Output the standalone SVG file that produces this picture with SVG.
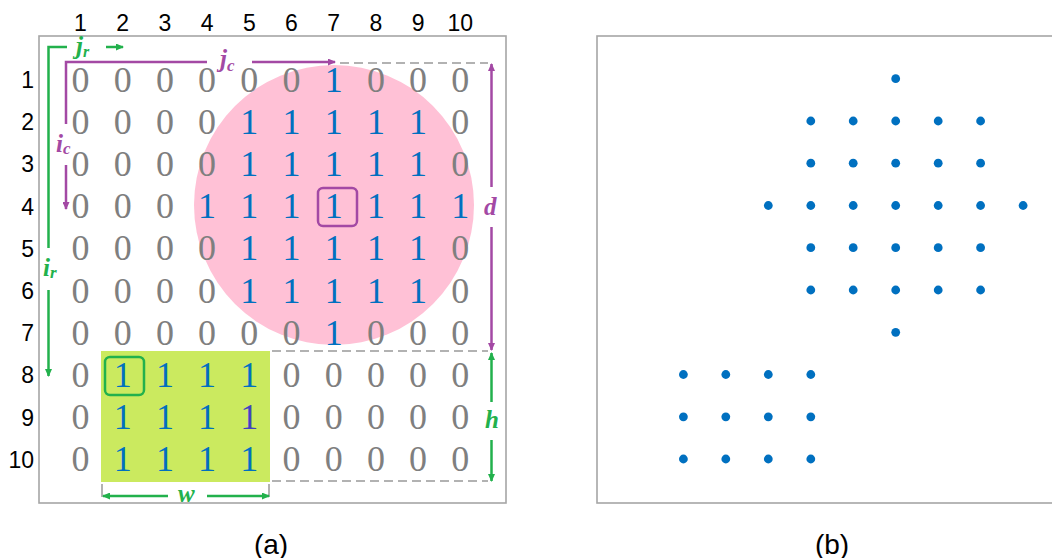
<svg xmlns="http://www.w3.org/2000/svg" width="1052" height="558" viewBox="0 0 1052 558">
<style>
.frame{fill:none;stroke:#A6A6A6;stroke-width:1.6}
.hdr{font-family:"Liberation Sans",Arial,sans-serif;font-size:23px;fill:#000;text-anchor:middle}
.rl{font-family:"Liberation Sans",Arial,sans-serif;font-size:23px;fill:#000;text-anchor:end}
.d0{font-family:"Liberation Serif","Times New Roman",serif;font-size:36px;fill:#7F7F7F;text-anchor:middle}
.d1{font-family:"Liberation Serif","Times New Roman",serif;font-size:36px;fill:#0070C0;text-anchor:middle}
.lbl{font-family:"Liberation Serif","Times New Roman",serif;font-style:italic;font-weight:bold;font-size:25px}
.pu{stroke:#A349A4;stroke-width:2.5;fill:none}
.gr{stroke:#22B14C;stroke-width:2.5;fill:none}
.dash{stroke:#999;stroke-width:1.6;stroke-dasharray:9 5;fill:none}
.dot{fill:#0070C0}
.cap{font-family:"Liberation Sans",Arial,sans-serif;font-size:28px;fill:#000;text-anchor:middle}
</style>
<defs>
<marker id="ap" markerWidth="8" markerHeight="7" refX="7" refY="3.5" orient="auto" markerUnits="userSpaceOnUse"><path d="M0,0 L8,3.5 L0,7 Z" fill="#A349A4"/></marker>
<marker id="ag" markerWidth="8" markerHeight="7" refX="7" refY="3.5" orient="auto" markerUnits="userSpaceOnUse"><path d="M0,0 L8,3.5 L0,7 Z" fill="#22B14C"/></marker>
</defs>
<rect width="1052" height="558" fill="#fff"/>

<g id="panel-a-frame"><rect class="frame" x="39" y="36" width="467" height="467"/></g>
<g id="circle-region"><circle cx="334" cy="205" r="140" fill="#FFC1D6"/></g>
<g id="rect-region"><rect x="101" y="351" width="169" height="131" fill="#CBEA5F"/></g>

<g id="col-headers">
<text class="hdr" x="80.5" y="31">1</text><text class="hdr" x="122.7" y="31">2</text><text class="hdr" x="164.9" y="31">3</text><text class="hdr" x="207.1" y="31">4</text><text class="hdr" x="249.3" y="31">5</text><text class="hdr" x="291.5" y="31">6</text><text class="hdr" x="333.7" y="31">7</text><text class="hdr" x="375.9" y="31">8</text><text class="hdr" x="418.1" y="31">9</text><text class="hdr" x="460.3" y="31">10</text>
</g>
<g id="row-headers">
<text class="rl" x="34" y="88">1</text><text class="rl" x="34" y="130.2">2</text><text class="rl" x="34" y="172.4">3</text><text class="rl" x="34" y="214.6">4</text><text class="rl" x="34" y="256.8">5</text><text class="rl" x="34" y="299">6</text><text class="rl" x="34" y="341.2">7</text><text class="rl" x="34" y="383.4">8</text><text class="rl" x="34" y="425.6">9</text><text class="rl" x="34" y="467.8">10</text>
</g>

<g id="matrix">
<g id="row1"><text class="d0" x="80.5" y="91.5">0</text><text class="d0" x="122.7" y="91.5">0</text><text class="d0" x="164.9" y="91.5">0</text><text class="d0" x="207.1" y="91.5">0</text><text class="d0" x="249.3" y="91.5">0</text><text class="d0" x="291.5" y="91.5">0</text><text class="d1" x="333.7" y="91.5">1</text><text class="d0" x="375.9" y="91.5">0</text><text class="d0" x="418.1" y="91.5">0</text><text class="d0" x="460.3" y="91.5">0</text></g>
<g id="row2"><text class="d0" x="80.5" y="133.7">0</text><text class="d0" x="122.7" y="133.7">0</text><text class="d0" x="164.9" y="133.7">0</text><text class="d0" x="207.1" y="133.7">0</text><text class="d1" x="249.3" y="133.7">1</text><text class="d1" x="291.5" y="133.7">1</text><text class="d1" x="333.7" y="133.7">1</text><text class="d1" x="375.9" y="133.7">1</text><text class="d1" x="418.1" y="133.7">1</text><text class="d0" x="460.3" y="133.7">0</text></g>
<g id="row3"><text class="d0" x="80.5" y="175.9">0</text><text class="d0" x="122.7" y="175.9">0</text><text class="d0" x="164.9" y="175.9">0</text><text class="d0" x="207.1" y="175.9">0</text><text class="d1" x="249.3" y="175.9">1</text><text class="d1" x="291.5" y="175.9">1</text><text class="d1" x="333.7" y="175.9">1</text><text class="d1" x="375.9" y="175.9">1</text><text class="d1" x="418.1" y="175.9">1</text><text class="d0" x="460.3" y="175.9">0</text></g>
<g id="row4"><text class="d0" x="80.5" y="218.1">0</text><text class="d0" x="122.7" y="218.1">0</text><text class="d0" x="164.9" y="218.1">0</text><text class="d1" x="207.1" y="218.1">1</text><text class="d1" x="249.3" y="218.1">1</text><text class="d1" x="291.5" y="218.1">1</text><text class="d1" x="333.7" y="218.1">1</text><text class="d1" x="375.9" y="218.1">1</text><text class="d1" x="418.1" y="218.1">1</text><text class="d1" x="460.3" y="218.1">1</text></g>
<g id="row5"><text class="d0" x="80.5" y="260.3">0</text><text class="d0" x="122.7" y="260.3">0</text><text class="d0" x="164.9" y="260.3">0</text><text class="d0" x="207.1" y="260.3">0</text><text class="d1" x="249.3" y="260.3">1</text><text class="d1" x="291.5" y="260.3">1</text><text class="d1" x="333.7" y="260.3">1</text><text class="d1" x="375.9" y="260.3">1</text><text class="d1" x="418.1" y="260.3">1</text><text class="d0" x="460.3" y="260.3">0</text></g>
<g id="row6"><text class="d0" x="80.5" y="302.5">0</text><text class="d0" x="122.7" y="302.5">0</text><text class="d0" x="164.9" y="302.5">0</text><text class="d0" x="207.1" y="302.5">0</text><text class="d1" x="249.3" y="302.5">1</text><text class="d1" x="291.5" y="302.5">1</text><text class="d1" x="333.7" y="302.5">1</text><text class="d1" x="375.9" y="302.5">1</text><text class="d1" x="418.1" y="302.5">1</text><text class="d0" x="460.3" y="302.5">0</text></g>
<g id="row7"><text class="d0" x="80.5" y="344.7">0</text><text class="d0" x="122.7" y="344.7">0</text><text class="d0" x="164.9" y="344.7">0</text><text class="d0" x="207.1" y="344.7">0</text><text class="d0" x="249.3" y="344.7">0</text><text class="d0" x="291.5" y="344.7">0</text><text class="d1" x="333.7" y="344.7">1</text><text class="d0" x="375.9" y="344.7">0</text><text class="d0" x="418.1" y="344.7">0</text><text class="d0" x="460.3" y="344.7">0</text></g>
<g id="row8"><text class="d0" x="80.5" y="386.9">0</text><text class="d1" x="122.7" y="386.9">1</text><text class="d1" x="164.9" y="386.9">1</text><text class="d1" x="207.1" y="386.9">1</text><text class="d1" x="249.3" y="386.9">1</text><text class="d0" x="291.5" y="386.9">0</text><text class="d0" x="333.7" y="386.9">0</text><text class="d0" x="375.9" y="386.9">0</text><text class="d0" x="418.1" y="386.9">0</text><text class="d0" x="460.3" y="386.9">0</text></g>
<g id="row9"><text class="d0" x="80.5" y="429.1">0</text><text class="d1" x="122.7" y="429.1">1</text><text class="d1" x="164.9" y="429.1">1</text><text class="d1" x="207.1" y="429.1">1</text><text class="d1" x="249.3" y="429.1" style="fill:#4242C0">1</text><text class="d0" x="291.5" y="429.1">0</text><text class="d0" x="333.7" y="429.1">0</text><text class="d0" x="375.9" y="429.1">0</text><text class="d0" x="418.1" y="429.1">0</text><text class="d0" x="460.3" y="429.1">0</text></g>
<g id="row10"><text class="d0" x="80.5" y="471.3">0</text><text class="d1" x="122.7" y="471.3">1</text><text class="d1" x="164.9" y="471.3">1</text><text class="d1" x="207.1" y="471.3">1</text><text class="d1" x="249.3" y="471.3">1</text><text class="d0" x="291.5" y="471.3">0</text><text class="d0" x="333.7" y="471.3">0</text><text class="d0" x="375.9" y="471.3">0</text><text class="d0" x="418.1" y="471.3">0</text><text class="d0" x="460.3" y="471.3">0</text></g>
</g>

<g id="highlight-cells">
<rect x="318" y="188" width="39" height="38" rx="5" fill="none" stroke="#A349A4" stroke-width="2.5"/>
<rect x="105" y="357" width="39" height="38" rx="5" fill="none" stroke="#22B14C" stroke-width="2.5"/>
</g>

<g id="connectors">
<line class="dash" x1="340" y1="63" x2="488" y2="63"/>
<line class="dash" x1="272" y1="351" x2="488" y2="351"/>
<line class="dash" x1="272" y1="481" x2="488" y2="481"/>
<line x1="102" y1="484" x2="102" y2="497" stroke="#999" stroke-width="1.5"/>
<line x1="269" y1="484" x2="269" y2="497" stroke="#999" stroke-width="1.5"/>
<polyline class="pu" points="66,124 66,62 207,62"/>
<line class="pu" x1="252" y1="62" x2="335" y2="62" marker-end="url(#ap)"/>
<line class="pu" x1="66" y1="165" x2="66" y2="209" marker-end="url(#ap)"/>
<line class="pu" x1="491.5" y1="187" x2="491.5" y2="64" marker-end="url(#ap)"/>
<line class="pu" x1="491.5" y1="227" x2="491.5" y2="350" marker-end="url(#ap)"/>
<polyline class="gr" points="48.5,248 48.5,47 67,47"/>
<line class="gr" x1="106" y1="47" x2="123" y2="47" marker-end="url(#ag)"/>
<line class="gr" x1="48.5" y1="290" x2="48.5" y2="376" marker-end="url(#ag)"/>
<line class="gr" x1="491.5" y1="402" x2="491.5" y2="353" marker-end="url(#ag)"/>
<line class="gr" x1="491.5" y1="440" x2="491.5" y2="481" marker-end="url(#ag)"/>
<line class="gr" x1="168" y1="496" x2="103" y2="496" marker-end="url(#ag)"/>
<line class="gr" x1="207" y1="496" x2="269" y2="496" marker-end="url(#ag)"/>
</g>

<g id="labels">
<text class="lbl" x="220" y="67" fill="#A349A4">j<tspan font-size="17" dy="4">c</tspan></text>
<text class="lbl" x="56" y="152" fill="#A349A4">i<tspan font-size="17" dy="2">c</tspan></text>
<text class="lbl" x="484" y="215" fill="#A349A4">d</text>
<text class="lbl" x="76" y="54" fill="#22B14C" font-size="24">j<tspan font-size="16" dy="3">r</tspan></text>
<text class="lbl" x="43" y="276" fill="#22B14C">i<tspan font-size="17" dy="2">r</tspan></text>
<text class="lbl" x="485" y="428" fill="#22B14C">h</text>
<text class="lbl" x="178" y="502" fill="#22B14C">w</text>
</g>

<g id="panel-b">
<rect class="frame" x="597" y="36" width="470" height="467"/>
<g id="dots">
<circle class="dot" cx="895.7" cy="78.7" r="4.4"/>
<circle class="dot" cx="810.8" cy="121" r="4.4"/><circle class="dot" cx="853.2" cy="121" r="4.4"/><circle class="dot" cx="895.7" cy="121" r="4.4"/><circle class="dot" cx="938.2" cy="121" r="4.4"/><circle class="dot" cx="980.6" cy="121" r="4.4"/>
<circle class="dot" cx="810.8" cy="163.2" r="4.4"/><circle class="dot" cx="853.2" cy="163.2" r="4.4"/><circle class="dot" cx="895.7" cy="163.2" r="4.4"/><circle class="dot" cx="938.2" cy="163.2" r="4.4"/><circle class="dot" cx="980.6" cy="163.2" r="4.4"/>
<circle class="dot" cx="768.3" cy="205.5" r="4.4"/><circle class="dot" cx="810.8" cy="205.5" r="4.4"/><circle class="dot" cx="853.2" cy="205.5" r="4.4"/><circle class="dot" cx="895.7" cy="205.5" r="4.4"/><circle class="dot" cx="938.2" cy="205.5" r="4.4"/><circle class="dot" cx="980.6" cy="205.5" r="4.4"/><circle class="dot" cx="1023.1" cy="205.5" r="4.4"/>
<circle class="dot" cx="810.8" cy="247.7" r="4.4"/><circle class="dot" cx="853.2" cy="247.7" r="4.4"/><circle class="dot" cx="895.7" cy="247.7" r="4.4"/><circle class="dot" cx="938.2" cy="247.7" r="4.4"/><circle class="dot" cx="980.6" cy="247.7" r="4.4"/>
<circle class="dot" cx="810.8" cy="290" r="4.4"/><circle class="dot" cx="853.2" cy="290" r="4.4"/><circle class="dot" cx="895.7" cy="290" r="4.4"/><circle class="dot" cx="938.2" cy="290" r="4.4"/><circle class="dot" cx="980.6" cy="290" r="4.4"/>
<circle class="dot" cx="895.7" cy="332.3" r="4.4"/>
<circle class="dot" cx="683.4" cy="374.5" r="4.4"/><circle class="dot" cx="725.8" cy="374.5" r="4.4"/><circle class="dot" cx="768.3" cy="374.5" r="4.4"/><circle class="dot" cx="810.8" cy="374.5" r="4.4"/>
<circle class="dot" cx="683.4" cy="416.8" r="4.4"/><circle class="dot" cx="725.8" cy="416.8" r="4.4"/><circle class="dot" cx="768.3" cy="416.8" r="4.4"/><circle class="dot" cx="810.8" cy="416.8" r="4.4"/>
<circle class="dot" cx="683.4" cy="459" r="4.4"/><circle class="dot" cx="725.8" cy="459" r="4.4"/><circle class="dot" cx="768.3" cy="459" r="4.4"/><circle class="dot" cx="810.8" cy="459" r="4.4"/>
</g>
</g>

<g id="captions">
<text class="cap" x="271" y="554">(a)</text>
<text class="cap" x="832" y="554">(b)</text>
</g>
</svg>
